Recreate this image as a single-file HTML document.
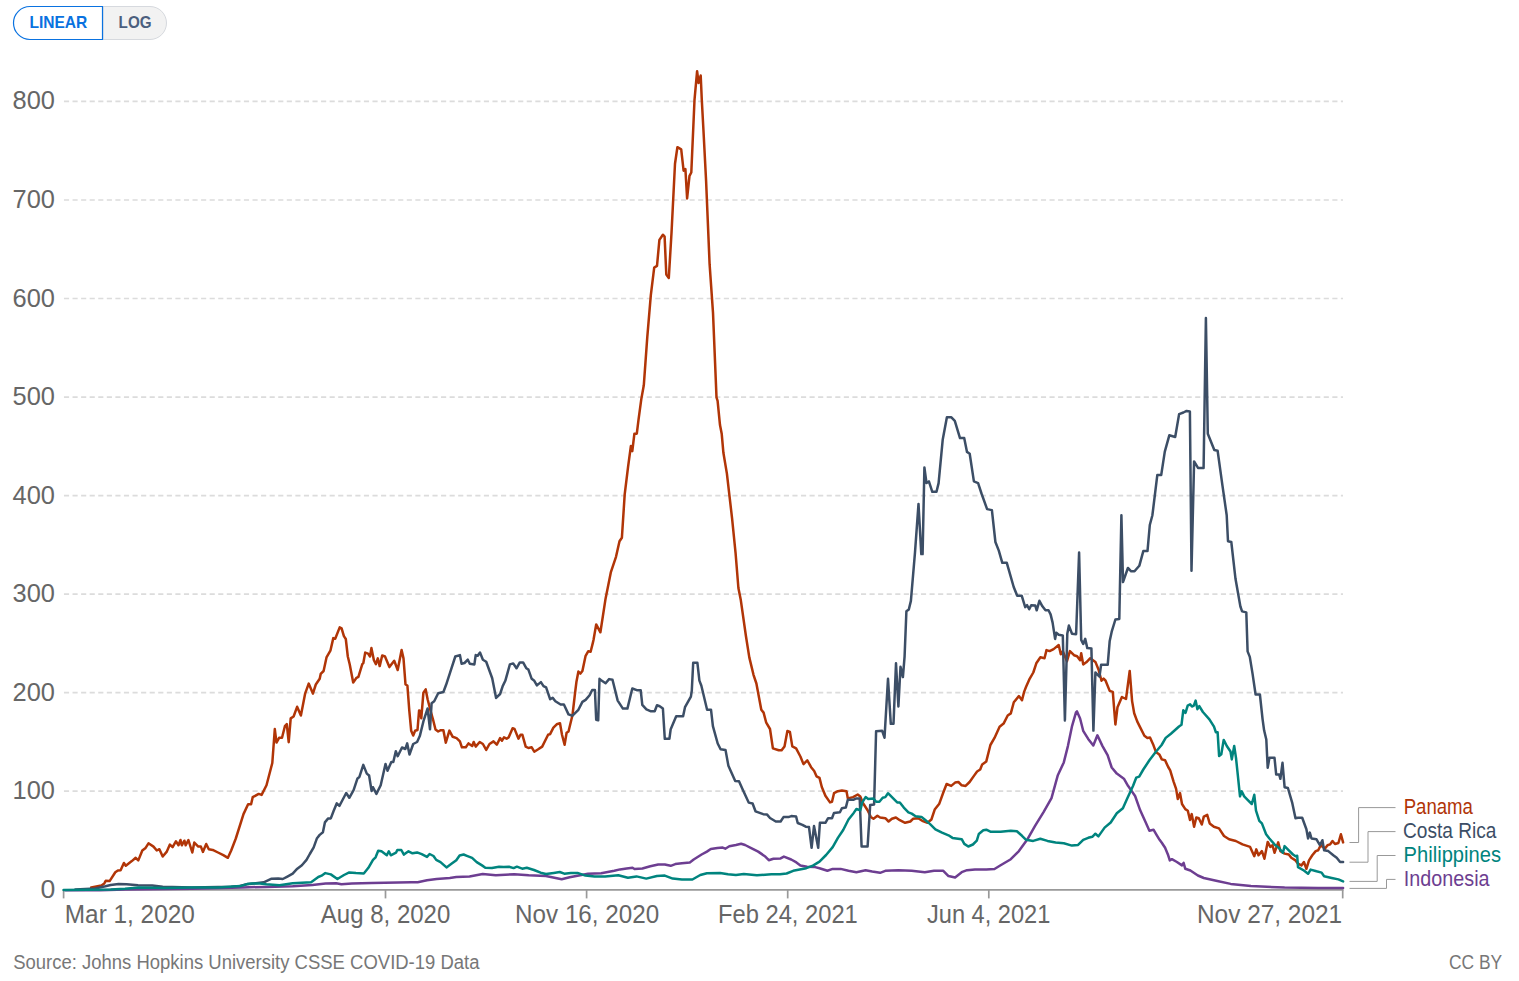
<!DOCTYPE html><html><head><meta charset="utf-8"><style>html,body{margin:0;padding:0;background:#fff;width:1519px;height:981px;overflow:hidden}svg{display:block;font-family:"Liberation Sans", sans-serif}</style></head><body>
<svg width="1519" height="981" viewBox="0 0 1519 981">
<path d="M103 6.5 H150 A16.5 16.5 0 0 1 150 39.5 H103 Z" fill="#f2f2f2" stroke="#d6d9de" stroke-width="1"/>
<path d="M102.5 6.5 H30 A16.5 16.5 0 0 0 30 39.5 H102.5 Z" fill="#fff" stroke="#0a72e0" stroke-width="1.2"/>
<text x="29.4" y="28.0" font-size="17" fill="#0a72e0" text-anchor="start" font-weight="bold" textLength="57.98" lengthAdjust="spacingAndGlyphs">LINEAR</text>
<text x="118.6" y="27.9" font-size="17" fill="#4b5f7e" text-anchor="start" font-weight="bold" textLength="32.97" lengthAdjust="spacingAndGlyphs">LOG</text>
<line x1="63.95" y1="791.17" x2="1343" y2="791.17" stroke="#dcdcdc" stroke-width="1.7" stroke-dasharray="5.142,3.428"/>
<line x1="63.95" y1="692.64" x2="1343" y2="692.64" stroke="#dcdcdc" stroke-width="1.7" stroke-dasharray="5.142,3.428"/>
<line x1="63.95" y1="594.1" x2="1343" y2="594.1" stroke="#dcdcdc" stroke-width="1.7" stroke-dasharray="5.142,3.428"/>
<line x1="63.95" y1="495.57" x2="1343" y2="495.57" stroke="#dcdcdc" stroke-width="1.7" stroke-dasharray="5.142,3.428"/>
<line x1="63.95" y1="397.04" x2="1343" y2="397.04" stroke="#dcdcdc" stroke-width="1.7" stroke-dasharray="5.142,3.428"/>
<line x1="63.95" y1="298.51" x2="1343" y2="298.51" stroke="#dcdcdc" stroke-width="1.7" stroke-dasharray="5.142,3.428"/>
<line x1="63.95" y1="199.98" x2="1343" y2="199.98" stroke="#dcdcdc" stroke-width="1.7" stroke-dasharray="5.142,3.428"/>
<line x1="63.95" y1="101.44" x2="1343" y2="101.44" stroke="#dcdcdc" stroke-width="1.7" stroke-dasharray="5.142,3.428"/>
<text x="55.0" y="799.17" font-size="25" fill="#666" text-anchor="end" font-weight="normal" textLength="42.4" lengthAdjust="spacingAndGlyphs">100</text>
<text x="55.0" y="700.64" font-size="25" fill="#666" text-anchor="end" font-weight="normal" textLength="42.4" lengthAdjust="spacingAndGlyphs">200</text>
<text x="55.0" y="602.1" font-size="25" fill="#666" text-anchor="end" font-weight="normal" textLength="42.4" lengthAdjust="spacingAndGlyphs">300</text>
<text x="55.0" y="503.57" font-size="25" fill="#666" text-anchor="end" font-weight="normal" textLength="42.4" lengthAdjust="spacingAndGlyphs">400</text>
<text x="55.0" y="405.04" font-size="25" fill="#666" text-anchor="end" font-weight="normal" textLength="42.4" lengthAdjust="spacingAndGlyphs">500</text>
<text x="55.0" y="306.51" font-size="25" fill="#666" text-anchor="end" font-weight="normal" textLength="42.4" lengthAdjust="spacingAndGlyphs">600</text>
<text x="55.0" y="207.98" font-size="25" fill="#666" text-anchor="end" font-weight="normal" textLength="42.4" lengthAdjust="spacingAndGlyphs">700</text>
<text x="55.0" y="109.44" font-size="25" fill="#666" text-anchor="end" font-weight="normal" textLength="42.4" lengthAdjust="spacingAndGlyphs">800</text>
<text x="55.4" y="898.4" font-size="25" fill="#666" text-anchor="end" font-weight="normal" textLength="14.8" lengthAdjust="spacingAndGlyphs">0</text>
<line x1="62.8" y1="889.85" x2="1343.5" y2="889.85" stroke="#999" stroke-width="1.7"/>
<line x1="63.6" y1="889.85" x2="63.6" y2="898.4" stroke="#999" stroke-width="1.7"/>
<line x1="385.5" y1="889.85" x2="385.5" y2="898.4" stroke="#999" stroke-width="1.7"/>
<line x1="586.6" y1="889.85" x2="586.6" y2="898.4" stroke="#999" stroke-width="1.7"/>
<line x1="787.7" y1="889.85" x2="787.7" y2="898.4" stroke="#999" stroke-width="1.7"/>
<line x1="988.8" y1="889.85" x2="988.8" y2="898.4" stroke="#999" stroke-width="1.7"/>
<line x1="1342.7" y1="889.85" x2="1342.7" y2="898.4" stroke="#999" stroke-width="1.7"/>
<text x="64.8" y="922.9" font-size="25.5" fill="#666" text-anchor="start" font-weight="normal" textLength="130.05" lengthAdjust="spacingAndGlyphs">Mar 1, 2020</text>
<text x="320.8" y="922.9" font-size="25.5" fill="#666" text-anchor="start" font-weight="normal" textLength="129.5" lengthAdjust="spacingAndGlyphs">Aug 8, 2020</text>
<text x="515.1" y="922.9" font-size="25.5" fill="#666" text-anchor="start" font-weight="normal" textLength="144.07" lengthAdjust="spacingAndGlyphs">Nov 16, 2020</text>
<text x="718.0" y="922.9" font-size="25.5" fill="#666" text-anchor="start" font-weight="normal" textLength="139.8" lengthAdjust="spacingAndGlyphs">Feb 24, 2021</text>
<text x="927.0" y="922.9" font-size="25.5" fill="#666" text-anchor="start" font-weight="normal" textLength="123.36" lengthAdjust="spacingAndGlyphs">Jun 4, 2021</text>
<text x="1197.0" y="922.9" font-size="25.5" fill="#666" text-anchor="start" font-weight="normal" textLength="145.14" lengthAdjust="spacingAndGlyphs">Nov 27, 2021</text>
<polyline points="91.2,887.4 101.4,885.5 104.3,883.4 105.7,880.8 109.6,881.1 115.3,872.3 117.9,870.5 120.6,870.3 123.9,863.0 125.8,865.7 131.8,861.1 135.7,857.8 138.3,860.4 142.3,850.5 145.6,847.9 148.5,843.3 153.5,846.6 156.8,850.5 159.4,849.2 162.7,856.5 166.6,851.9 169.9,844.6 172.6,847.2 175.9,841.3 178.5,845.3 180.5,840.0 181.8,845.3 184.4,840.7 185.7,845.3 188.4,840.0 192.3,852.5 194.3,842.6 198.3,846.6 200.9,846.6 202.9,851.9 206.2,844.0 208.8,849.2 212.7,849.9 218.0,852.5 223.3,855.1 227.9,857.8 231.2,850.5 235.8,838.5 243.5,814.1 248.1,804.3 251.1,804.3 252.7,797.2 258.7,793.9 261.6,794.9 266.5,785.2 272.3,763.0 274.8,729.1 276.5,742.6 279.1,737.8 282.0,737.8 284.9,726.2 286.8,724.2 288.7,742.2 290.7,718.4 293.6,716.5 297.1,706.8 300.9,715.5 305.2,693.3 308.7,683.6 312.9,693.6 315.8,684.5 319.7,678.7 320.7,673.9 323.6,671.0 326.5,657.4 330.4,650.7 333.3,638.1 335.2,638.7 339.7,627.4 341.6,628.4 343.9,636.1 345.8,639.0 347.8,656.5 349.7,664.2 353.2,682.6 356.5,677.8 358.4,676.8 362.3,664.2 363.3,663.2 365.2,652.6 368.1,653.6 370.0,656.5 371.4,648.1 373.9,660.3 375.9,664.2 377.8,658.4 379.7,666.1 382.2,655.5 385.0,656.5 389.4,667.1 394.2,660.7 397.7,670.0 401.6,650.1 403.5,658.4 405.5,684.5 407.4,685.5 409.3,710.7 411.2,730.8 413.2,735.5 415.1,730.8 417.5,730.0 419.1,710.4 420.4,711.1 421.3,718.3 423.4,692.7 425.7,689.4 427.6,699.2 430.3,709.8 432.9,719.0 435.5,729.5 438.2,731.5 440.8,730.2 443.4,730.2 445.8,742.7 449.4,730.6 452.7,736.8 456.6,738.1 459.9,741.4 461.9,747.3 465.8,747.3 468.5,743.4 472.2,746.0 473.7,742.0 475.7,746.6 479.7,742.0 482.9,744.0 486.2,749.9 489.5,744.0 493.5,741.4 496.8,744.7 500.1,738.1 502.0,740.7 504.0,737.4 506.6,738.7 508.6,737.4 512.6,728.2 514.5,728.9 518.5,738.7 520.5,734.8 522.4,734.8 525.7,746.6 528.4,748.0 531.7,747.3 534.3,751.7 538.2,749.3 542.2,746.6 548.1,734.8 550.1,734.1 553.4,727.6 556.7,724.3 560.0,723.2 562.0,734.8 564.6,744.7 566.6,732.8 568.5,731.5 572.5,715.0 575.1,692.7 576.4,682.1 578.4,671.6 580.4,673.6 582.4,670.9 585.6,655.8 588.3,651.2 590.6,651.8 592.9,642.6 593.5,640.0 596.2,624.4 600.4,632.3 605.6,598.4 610.8,572.4 616.0,556.8 619.5,541.2 621.9,537.7 624.7,494.4 628.1,466.7 630.9,445.9 632.3,451.1 634.4,433.7 636.8,433.7 638.5,419.9 641.3,399.1 643.8,385.3 647.3,336.8 650.8,295.3 654.2,267.6 657.0,265.9 659.4,239.9 662.9,234.7 664.6,236.5 666.3,274.5 668.8,278.0 671.5,233.0 675.0,163.8 677.4,147.2 681.2,149.3 683.6,170.7 685.4,169.0 687.1,198.4 689.5,175.9 691.3,172.5 694.5,100.0 697.1,71.2 698.6,83.0 700.7,75.5 701.8,100.0 703.4,129.2 706.1,181.1 709.6,264.2 713.0,312.6 716.5,397.4 717.6,400.8 720.0,425.1 721.7,433.7 723.4,452.8 726.9,473.6 732.1,518.6 735.6,553.3 738.4,588.0 740.8,600.1 746.0,636.5 749.3,657.4 753.5,674.8 756.4,683.5 761.3,709.7 763.6,712.6 766.1,722.3 770.0,729.0 772.9,748.4 778.7,750.3 781.6,750.3 784.5,746.4 787.4,731.0 789.9,731.9 792.3,746.4 796.1,748.4 800.4,756.5 803.5,764.1 807.3,760.3 811.1,767.2 814.2,771.0 816.5,776.3 819.5,777.9 821.8,787.0 825.4,795.8 830.0,802.4 832.0,801.7 834.0,793.2 837.9,791.2 841.9,790.5 846.5,791.2 847.8,798.4 853.1,797.1 857.7,794.5 860.3,796.5 862.9,803.0 867.6,810.3 870.8,816.9 873.5,818.8 877.4,815.8 880.1,817.5 885.3,818.2 888.6,821.5 891.9,818.8 895.9,817.5 899.8,820.2 905.1,822.8 910.3,821.5 913.0,818.8 918.2,818.2 922.2,820.8 927.5,822.8 931.4,819.5 934.7,809.6 939.3,803.7 943.3,792.5 946.6,784.0 951.2,785.9 955.1,782.6 958.4,782.0 961.7,785.3 965.6,785.9 969.6,782.0 974.1,775.6 977.1,771.5 980.2,769.5 982.2,764.4 986.3,761.4 990.4,745.0 994.5,737.9 999.6,726.7 1003.6,723.6 1007.7,715.5 1010.8,713.4 1013.8,702.2 1018.9,696.1 1022.0,700.2 1024.1,691.9 1026.1,686.8 1029.2,679.7 1033.3,672.5 1036.3,663.3 1040.4,657.2 1044.5,658.2 1046.5,650.1 1049.6,651.1 1053.6,649.1 1058.7,645.0 1060.8,654.2 1062.8,651.1 1066.9,661.3 1069.9,651.1 1074.0,655.2 1077.1,656.2 1080.1,660.3 1081.2,653.2 1083.2,664.4 1086.3,662.3 1090.3,658.2 1095.4,661.9 1098.5,669.5 1101.5,680.7 1103.6,678.6 1105.6,680.7 1109.7,690.9 1112.8,691.9 1115.4,724.5 1117.5,707.2 1121.9,697.0 1126.0,699.0 1129.7,670.9 1132.1,701.1 1134.2,713.3 1137.2,721.4 1140.3,727.6 1144.4,735.7 1147.4,737.9 1150.0,737.6 1153.4,745.1 1155.9,751.9 1159.3,754.4 1161.8,759.4 1165.1,760.3 1168.2,767.0 1170.2,770.4 1173.5,781.3 1176.1,788.9 1177.8,799.0 1180.0,793.1 1182.0,804.0 1185.3,809.1 1187.8,810.7 1190.0,820.0 1191.7,814.1 1194.1,826.7 1196.3,817.5 1198.8,818.3 1201.8,824.5 1203.8,816.6 1207.2,814.9 1209.7,823.4 1213.9,826.7 1219.0,828.4 1224.0,836.0 1229.1,839.3 1235.8,841.0 1242.5,844.4 1250.1,846.9 1254.3,856.2 1256.3,849.4 1258.5,855.3 1261.9,851.1 1264.4,858.7 1267.7,841.9 1270.3,846.9 1272.5,845.2 1274.5,852.8 1278.2,842.4 1280.4,851.1 1284.6,853.6 1288.8,854.5 1291.3,857.8 1295.5,860.4 1298.0,863.7 1301.4,865.4 1303.9,862.0 1306.4,868.8 1309.0,860.4 1312.3,855.3 1315.7,851.1 1318.2,850.3 1320.7,845.2 1325.0,848.6 1327.5,845.2 1330.0,844.4 1332.5,841.0 1335.0,844.0 1338.4,843.0 1340.9,834.3 1343.1,842.4" fill="none" stroke="#b13507" stroke-width="2.5" stroke-linejoin="round" stroke-linecap="round"/>
<polyline points="75.4,889.4 95.0,888.5 105.4,886.3 110.7,885.0 118.6,884.0 126.5,884.2 138.0,885.3 152.2,885.4 162.7,886.7 191.7,887.4 231.2,886.7 240.0,886.0 246.6,884.3 255.8,883.2 263.7,882.3 271.6,878.7 278.2,878.6 282.8,879.0 287.4,876.6 292.7,873.7 297.3,868.7 301.9,865.2 306.5,859.9 309.8,854.0 313.7,847.4 317.0,838.2 319.7,834.9 322.9,832.3 324.9,822.4 328.2,818.4 330.8,818.4 333.5,811.2 336.8,803.3 339.4,805.9 342.0,801.0 346.2,793.0 349.3,797.8 353.6,790.1 357.5,778.4 359.4,776.9 363.3,764.9 366.8,773.6 369.1,775.5 371.6,791.0 373.0,787.2 376.4,793.9 380.7,785.2 385.5,763.9 387.5,770.7 391.3,762.0 393.3,762.0 395.8,751.3 397.7,756.2 402.0,747.5 405.3,749.0 407.2,743.4 409.5,754.5 413.2,744.0 417.1,742.0 419.8,736.1 423.7,720.3 427.6,708.5 430.0,729.3 431.6,703.2 434.2,701.2 438.2,693.3 443.4,692.0 446.1,684.8 450.0,672.9 455.3,656.5 459.9,655.1 461.6,663.7 464.5,663.0 467.8,659.7 469.8,663.7 474.4,664.4 475.7,655.1 477.7,655.8 480.0,652.5 482.9,659.7 486.2,661.7 492.2,678.2 496.1,697.9 500.1,694.0 502.7,686.1 505.3,680.8 509.9,664.4 513.2,663.4 516.5,668.3 519.8,662.4 523.1,662.4 526.4,668.3 528.4,669.6 531.7,678.8 534.3,680.8 536.9,685.4 540.9,682.1 543.5,686.1 546.1,687.4 550.1,699.2 552.7,697.9 555.4,701.2 560.6,704.5 563.9,704.5 568.5,714.4 572.5,715.7 578.4,709.8 582.4,701.9 585.6,699.9 589.6,695.3 592.2,690.0 594.9,690.0 596.2,719.7 598.2,720.3 599.5,678.8 600.4,679.8 605.6,683.3 609.1,679.1 612.5,679.8 617.7,700.6 622.9,708.6 627.4,708.6 632.3,688.5 636.8,690.2 640.7,690.2 642.3,704.9 646.4,709.4 651.0,711.3 654.7,711.3 657.0,705.3 659.7,706.2 662.9,708.5 664.8,738.8 669.4,738.8 670.7,729.2 676.2,716.3 683.1,716.3 685.0,707.2 690.9,696.6 691.8,690.6 693.2,662.8 697.4,662.8 699.4,680.6 701.3,685.5 707.1,709.7 711.0,709.7 712.9,726.1 717.7,743.5 720.6,749.3 725.5,749.9 728.4,765.8 735.2,780.9 739.0,781.3 742.9,790.0 748.7,802.6 752.6,803.5 755.5,811.3 763.2,814.2 767.1,814.6 770.0,818.0 775.8,821.5 780.6,821.5 783.5,817.1 788.4,817.1 791.3,816.1 796.1,816.5 797.7,823.0 802.4,824.8 805.7,826.7 809.0,827.1 811.6,847.8 814.0,826.1 818.2,847.8 819.9,822.8 825.4,822.8 828.1,818.2 832.0,818.2 834.0,812.9 839.9,812.3 841.9,808.3 845.8,807.6 847.8,799.7 853.7,799.7 856.4,798.4 859.7,798.4 861.6,846.5 867.6,846.5 870.2,805.0 874.1,804.4 876.1,731.2 882.1,730.7 884.5,737.7 888.0,678.8 890.8,723.8 893.5,723.8 896.0,663.2 898.4,706.5 900.5,666.7 902.9,677.1 904.6,656.3 906.4,611.3 908.8,609.5 910.9,600.9 915.0,552.4 918.5,503.9 921.3,554.1 922.6,554.1 924.4,467.5 926.5,483.1 928.9,481.4 932.3,491.8 936.5,491.8 938.6,483.1 942.7,439.8 946.9,417.3 951.4,417.3 954.8,420.8 960.0,438.1 964.2,438.1 967.0,451.9 969.7,453.7 973.9,481.4 978.1,483.1 981.5,493.5 987.1,509.1 991.9,510.1 995.4,542.0 998.8,550.6 1002.3,562.8 1006.8,562.8 1013.7,587.0 1017.2,595.7 1021.7,595.7 1025.2,607.1 1027.1,605.2 1029.2,609.3 1031.2,605.2 1035.3,605.6 1036.7,610.3 1039.4,600.8 1042.4,606.3 1045.5,610.3 1048.5,610.3 1050.6,614.4 1052.6,622.6 1055.1,638.9 1056.3,632.8 1058.7,634.8 1062.8,635.4 1064.9,720.4 1067.3,633.8 1068.9,625.6 1072.0,633.8 1076.1,634.2 1079.1,552.6 1081.2,639.9 1083.2,644.0 1085.2,638.9 1087.3,648.1 1091.4,648.5 1093.4,730.6 1095.4,672.5 1099.5,676.6 1101.1,664.8 1107.7,664.8 1109.7,640.9 1111.7,631.7 1115.4,619.5 1119.3,619.0 1121.4,515.2 1123.0,582.1 1127.9,568.0 1131.2,571.3 1134.5,571.3 1139.3,565.8 1143.3,551.1 1147.5,551.1 1149.8,525.0 1152.4,515.2 1157.3,475.1 1161.2,475.1 1164.8,451.6 1169.3,435.3 1175.2,437.0 1179.1,414.1 1183.4,412.5 1186.6,410.9 1189.9,411.5 1191.5,570.7 1194.1,461.4 1198.0,467.9 1203.6,467.9 1205.9,317.9 1207.8,433.7 1214.3,450.0 1217.6,450.7 1222.5,485.9 1226.7,515.2 1228.0,541.3 1231.3,542.0 1235.5,578.8 1240.4,606.5 1242.1,611.4 1246.3,612.4 1247.6,651.4 1249.8,656.9 1252.5,673.4 1255.6,694.5 1259.9,694.5 1262.6,719.3 1264.1,730.3 1266.3,739.5 1267.7,767.8 1269.4,757.8 1274.5,757.8 1276.2,774.6 1279.2,774.6 1280.4,778.8 1282.5,762.8 1284.6,787.2 1287.9,788.0 1292.1,802.3 1295.5,818.3 1298.0,817.8 1302.2,817.8 1306.4,829.2 1308.1,838.5 1309.8,832.6 1311.5,838.5 1316.5,839.3 1319.9,845.2 1322.4,840.2 1324.1,850.3 1328.3,851.1 1333.3,855.3 1336.7,857.8 1340.1,862.0 1343.1,862.0" fill="none" stroke="#3c4e66" stroke-width="2.5" stroke-linejoin="round" stroke-linecap="round"/>
<polyline points="65.5,890.2 100.0,890.3 125.8,889.4 191.7,888.7 241.7,887.4 266.3,886.9 292.7,886.2 312.4,884.9 325.6,883.6 336.1,883.2 341.4,884.3 351.9,883.6 371.7,882.9 384.8,882.7 411.2,882.3 417.7,882.3 427.0,880.3 436.6,879.0 449.8,877.9 456.3,876.9 469.5,876.4 482.7,874.0 495.8,875.3 514.3,874.2 528.7,875.3 545.9,876.0 561.7,879.2 569.6,877.3 580.1,875.3 588.0,873.7 601.2,873.3 614.3,870.7 620.0,869.4 626.6,868.5 632.5,867.7 634.5,869.0 642.4,868.5 650.3,866.3 658.2,864.5 664.8,864.5 670.7,865.8 675.3,864.1 681.9,863.2 689.8,862.4 693.7,859.5 701.6,854.5 706.9,851.6 710.8,849.0 717.4,847.9 722.7,847.6 725.3,848.7 729.3,846.3 735.9,845.0 741.1,843.7 745.1,845.0 751.7,848.3 758.2,851.6 764.8,856.2 768.8,860.2 773.4,858.8 780.6,858.4 783.9,856.6 791.2,859.5 796.4,862.4 800.4,865.4 807.0,866.7 814.2,866.9 819.5,868.2 827.4,870.8 832.7,868.9 840.6,868.9 848.5,870.8 856.4,872.2 865.6,870.2 872.2,871.5 880.1,872.8 885.3,870.8 898.5,870.2 911.7,870.8 924.8,872.2 934.0,870.8 943.3,870.8 948.5,876.1 955.1,877.4 961.7,872.2 967.0,870.2 974.9,869.5 986.3,869.4 994.5,869.0 1000.6,865.3 1010.8,859.2 1018.9,851.1 1027.1,839.8 1035.2,825.6 1043.4,812.3 1051.5,798.1 1057.7,775.6 1063.8,762.4 1067.9,746.1 1071.9,726.7 1076.0,712.4 1077.0,711.4 1080.1,718.5 1083.2,730.8 1088.2,738.9 1093.3,745.5 1097.4,735.3 1102.5,746.1 1107.6,755.2 1111.7,767.5 1116.8,773.6 1123.9,778.7 1128.0,785.8 1135.1,796.0 1140.2,810.3 1145.3,821.5 1149.4,830.7 1153.5,829.7 1156.7,835.1 1159.6,839.8 1161.8,842.7 1165.1,847.7 1168.2,855.3 1169.8,860.4 1171.9,859.2 1176.9,862.0 1182.0,865.4 1183.6,862.9 1185.3,868.8 1190.4,870.5 1197.9,875.5 1203.8,878.0 1217.3,881.0 1230.7,883.9 1250.9,886.1 1284.6,887.6 1318.2,888.1 1343.1,888.1" fill="none" stroke="#6d3e91" stroke-width="2.5" stroke-linejoin="round" stroke-linecap="round"/>
<polyline points="63.6,889.9 110.7,889.6 125.0,888.8 139.0,887.6 165.3,888.0 191.7,887.6 218.0,887.4 240.4,886.1 247.0,884.1 252.2,883.4 260.0,883.4 266.3,884.3 279.5,885.3 292.7,883.2 301.9,882.7 311.1,882.3 318.3,877.0 321.6,875.7 325.3,873.1 330.8,874.4 337.4,879.0 344.0,875.0 349.3,872.4 355.9,873.1 363.8,873.5 368.4,867.8 373.0,859.9 375.6,857.3 378.2,850.7 381.5,851.3 386.8,855.3 388.8,851.3 390.8,855.3 396.0,852.7 397.3,850.0 401.3,850.0 403.9,854.6 408.5,851.3 412.5,853.3 417.1,852.4 421.7,854.2 427.0,856.9 429.6,854.0 433.5,856.0 436.2,859.9 440.5,862.1 446.5,867.4 451.1,864.1 456.3,860.2 459.6,855.5 463.6,854.5 466.9,855.8 472.1,857.9 476.7,862.1 482.0,865.4 485.3,867.7 491.9,868.1 499.1,866.7 503.7,867.1 509.0,866.7 513.6,868.1 516.9,866.7 522.2,868.7 526.8,867.7 534.0,870.0 540.6,872.7 545.9,874.0 553.8,872.9 559.7,872.0 564.3,873.7 570.9,872.9 577.5,872.9 585.4,875.6 594.6,876.6 605.1,876.4 618.3,875.3 627.9,877.7 636.5,876.4 646.3,878.6 656.9,876.0 664.8,875.6 672.7,878.6 681.9,879.5 692.4,879.5 700.3,875.0 706.9,873.3 720.1,872.9 728.0,874.2 735.9,875.0 743.8,874.0 756.9,875.3 771.4,874.2 780.0,874.3 786.6,873.5 793.2,870.8 799.7,869.5 806.3,868.2 812.9,865.6 819.5,861.6 826.1,855.0 832.7,847.1 837.9,837.9 843.2,830.0 848.5,819.5 853.7,812.9 856.4,809.0 860.3,810.3 862.3,802.4 865.6,797.1 868.2,799.1 873.5,798.4 876.1,801.7 879.4,801.7 882.7,797.8 885.3,797.1 888.0,793.2 893.2,798.4 897.2,802.4 899.8,802.4 903.8,807.6 908.4,812.3 911.7,813.6 915.6,816.2 921.5,816.9 926.2,820.8 930.1,824.1 935.4,829.4 942.0,832.7 948.5,835.3 952.5,837.9 961.7,839.2 964.3,843.9 968.3,846.5 972.9,844.5 976.8,840.6 978.8,834.0 983.3,830.3 986.3,829.7 990.4,831.7 1000.6,831.7 1010.8,830.7 1016.9,831.3 1022.0,835.8 1026.1,839.8 1033.2,840.9 1040.3,838.8 1047.5,840.9 1055.6,842.5 1063.8,843.3 1071.9,845.6 1078.1,844.9 1083.2,839.8 1088.2,837.8 1092.3,836.8 1095.4,833.7 1098.4,836.4 1104.6,827.6 1110.7,822.5 1116.8,813.3 1122.9,808.2 1127.0,799.1 1133.1,785.8 1136.2,777.7 1139.2,776.6 1143.3,769.5 1149.4,760.3 1155.5,752.2 1161.6,745.0 1165.7,737.9 1170.9,733.7 1179.0,726.5 1181.5,724.8 1183.3,710.2 1185.5,712.9 1187.7,705.6 1190.1,704.3 1191.9,706.5 1193.8,705.6 1195.6,700.6 1197.4,709.2 1199.3,706.1 1202.9,712.0 1209.4,719.3 1214.0,726.7 1215.8,732.2 1217.6,732.2 1219.1,756.0 1221.3,754.2 1223.7,739.9 1226.8,746.0 1230.5,751.5 1231.8,759.4 1234.2,746.0 1236.0,757.9 1237.5,772.1 1240.0,796.4 1241.7,791.4 1244.2,796.4 1247.6,799.8 1251.8,804.0 1254.3,794.8 1256.0,810.7 1259.3,820.8 1261.9,823.4 1266.1,834.3 1269.4,838.5 1274.5,844.4 1278.7,847.7 1282.9,852.8 1284.6,846.1 1288.8,850.3 1293.0,854.5 1295.5,856.2 1297.2,855.8 1298.0,867.1 1303.9,870.5 1308.1,873.8 1310.6,869.6 1316.5,871.3 1321.6,872.6 1324.1,876.3 1331.7,878.0 1338.4,879.4 1343.1,881.4" fill="none" stroke="#00847e" stroke-width="2.5" stroke-linejoin="round" stroke-linecap="round"/>
<polyline points="1349.5,842.5 1358.6,842.5 1358.6,807.6 1395.5,807.6" fill="none" stroke="#999" stroke-width="1"/>
<polyline points="1349.5,862.2 1368.0,862.2 1368.0,831.6 1395.5,831.6" fill="none" stroke="#999" stroke-width="1"/>
<polyline points="1349.5,881.4 1377.2,881.4 1377.2,855.5 1395.5,855.5" fill="none" stroke="#999" stroke-width="1"/>
<polyline points="1349.5,888.4 1386.5,888.4 1386.5,879.4 1395.5,879.4" fill="none" stroke="#999" stroke-width="1"/>
<text x="1403.65" y="814.0" font-size="21.2" fill="#b13507" text-anchor="start" font-weight="normal" textLength="69.33" lengthAdjust="spacingAndGlyphs">Panama</text>
<text x="1403.0" y="838.1" font-size="21.2" fill="#3c4e66" text-anchor="start" font-weight="normal" textLength="93.42" lengthAdjust="spacingAndGlyphs">Costa Rica</text>
<text x="1403.6" y="862.0" font-size="21.2" fill="#00847e" text-anchor="start" font-weight="normal" textLength="97.43" lengthAdjust="spacingAndGlyphs">Philippines</text>
<text x="1403.8" y="886.1" font-size="21.2" fill="#6d3e91" text-anchor="start" font-weight="normal" textLength="85.72" lengthAdjust="spacingAndGlyphs">Indonesia</text>
<text x="13.2" y="968.9" font-size="20" fill="#777" text-anchor="start" font-weight="normal" textLength="466.3" lengthAdjust="spacingAndGlyphs">Source: Johns Hopkins University CSSE COVID-19 Data</text>
<text x="1449.0" y="969.0" font-size="20" fill="#777" text-anchor="start" font-weight="normal" textLength="53.21" lengthAdjust="spacingAndGlyphs">CC BY</text>
</svg></body></html>
